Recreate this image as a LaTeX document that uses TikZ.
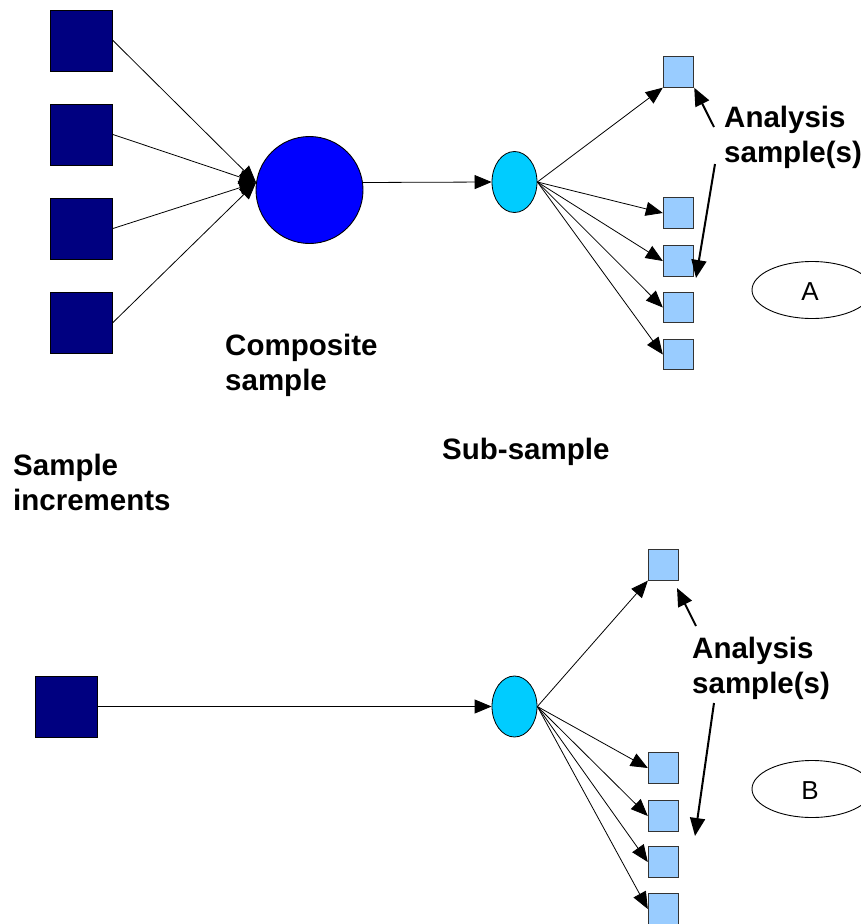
\documentclass[tikz,border=0pt]{standalone}
\usepackage{fontspec}
\setmainfont{Liberation Sans}
\usetikzlibrary{arrows.meta,shapes.geometric}
\definecolor{navyc}{RGB}{0,0,128}
\definecolor{bluec}{RGB}{0,0,255}
\definecolor{cyanc}{RGB}{0,204,255}
\definecolor{lblue}{RGB}{153,204,255}
\begin{document}
\begin{tikzpicture}[x=1pt,y=-1pt,
 inc/.style={rectangle, draw=black, line width=0.9pt, fill=navyc, minimum width=62pt, minimum height=61pt, inner sep=0},
 ana/.style={rectangle, draw=black!80, line width=0.9pt, fill=lblue, minimum size=30.5pt, inner sep=0},
 comp/.style={circle, draw=black, line width=0.9pt, fill=bluec, minimum size=107pt, inner sep=0},
 subs/.style={ellipse, draw=black, line width=0.8pt, fill=cyanc, minimum width=45pt, minimum height=61pt, inner sep=0},
 conn/.style={line width=0.8pt, -{Triangle[length=17pt,width=14pt]}},
 lblarrow/.style={line width=2pt, -{Triangle[length=18pt,width=15pt]}},
 lbl/.style={font=\bfseries\fontsize{29.5}{35}\selectfont, align=left, inner sep=0, anchor=base west},
 tag/.style={ellipse, draw=black, line width=0.9pt, minimum width=120pt, minimum height=57pt, inner sep=0}
]
\useasboundingbox (0,0) rectangle (861,924);

% ---------- part A ----------
\node[inc] (i1) at (81.5,40.5) {};
\node[inc] (i2) at (81.5,134.5) {};
\node[inc] (i3) at (81.5,228.5) {};
\node[inc] (i4) at (81.5,322.5) {};
\node[comp] (c1) at (309.5,190) {};
\node[subs] (e1) at (514.5,182) {};
\node[ana] (a1) at (678.5,72) {};
\node[ana] (a2) at (678.5,213) {};
\node[ana] (a3) at (678.5,261) {};
\node[ana] (a4) at (678.5,307.5) {};
\node[ana] (a5) at (678.5,354.5) {};

\foreach \k in {1,...,4} \draw[conn] (i\k.east) -- (c1.172);
\draw[conn] (c1.8) -- (e1.west);
\draw[conn] (e1.east) -- (a1.south west);
\foreach \k in {2,...,5} \draw[conn] (e1.east) -- (a\k.west);

% base anchor of a two-line label = baseline of its last line
\node[lbl] (lcomp) at (225,390) {Composite\\sample};
\node[lbl] (linc) at (13,510) {Sample\\increments};
\node[lbl] (lsub) at (442,459) {Sub-sample};
\node[lbl] (lanaA) at (724,162) {Analysis\\sample(s)};
\coordinate (pA1) at (714,127);
\coordinate (pA2) at (715,164);
\coordinate (qA2) at (696,278);
\draw[lblarrow] (pA1) -- (a1.south east);
\draw[lblarrow] (pA2) -- (qA2);
\node[tag] (tA) at (812,290) {};
\node[font=\fontsize{26}{30}\selectfont, inner sep=0] (tAt) at (810,292) {A};

% ---------- part B ----------
\node[inc] (b0) at (66,706.5) {};
\node[subs] (e2) at (514.5,706.5) {};
\node[ana] (d1) at (663.5,565) {};
\node[ana] (d2) at (663.5,768) {};
\node[ana] (d3) at (663.5,816) {};
\node[ana] (d4) at (663.5,862) {};
\node[ana] (d5) at (663.5,909) {};

\draw[conn] (b0) -- (e2);
\draw[conn] (e2.east) -- (d1.south west);
\foreach \k in {2,...,5} \draw[conn] (e2.east) -- (d\k.west);

\node[lbl] (lanaB) at (692,693) {Analysis\\sample(s)};
\coordinate (pB1) at (696,626);
\coordinate (qB1) at (677,588);
\coordinate (pB2) at (714,703);
\coordinate (qB2) at (695,836);
\draw[lblarrow] (pB1) -- (qB1);
\draw[lblarrow] (pB2) -- (qB2);
\node[tag] (tB) at (812,789) {};
\node[font=\fontsize{26}{30}\selectfont, inner sep=0] (tBt) at (810,791) {B};
\end{tikzpicture}
\end{document}
